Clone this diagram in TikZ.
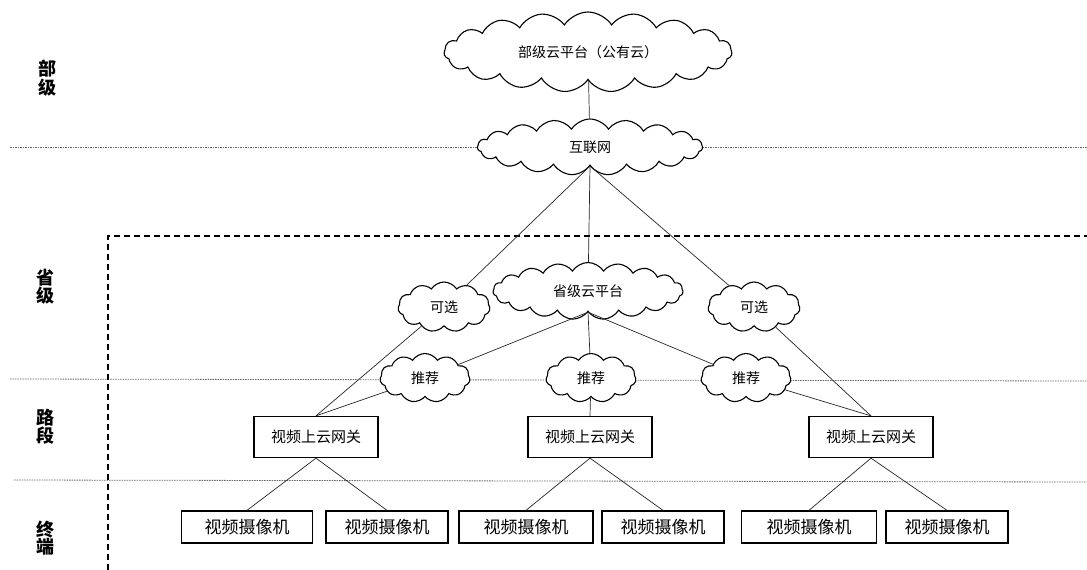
\documentclass[tikz,border=0pt]{standalone}
\usepackage{fontspec}
\setmainfont{Noto Sans CJK SC}
\usepackage{tikz}
\usetikzlibrary{positioning, arrows.meta, shapes.symbols}

\begin{document}
\begin{tikzpicture}[
    x=1pt, y=-1pt,
    % Define specific styles to match the drawing
    netcloud/.style={
        cloud,
        cloud puffs=11,
        cloud puff arc=115,
        cloud ignores aspect,
        draw=black,
        line width=1.1pt,
        fill=white,
        font=\fontsize{14}{16}\selectfont,
        inner sep=0pt
    },
    widecloud/.style={
        netcloud,
        cloud puffs=19
    },
    gateway/.style={
        rectangle,
        draw=black,
        line width=1.3pt,
        fill=white,
        minimum width=124pt,
        minimum height=41pt,
        font=\fontsize{15}{17}\selectfont
    },
    camera/.style={
        rectangle,
        draw=black,
        line width=1.3pt,
        fill=white,
        minimum width=127pt,
        minimum height=32pt,
        font=\fontsize{17}{19}\selectfont
    },
    link/.style={
        draw=black!85,
        line width=0.7pt
    },
    layerline/.style={
        draw=black!60,
        line width=0.8pt,
        dash pattern=on 1.5pt off 1pt
    },
    zone/.style={
        draw=black,
        line width=1.2pt,
        dash pattern=on 6pt off 4pt
    },
    level/.style={
        font=\bfseries\fontsize{18}{17}\selectfont,
        align=center
    }
]
    \useasboundingbox (0,0) rectangle (1087,570);

    % --- Layer separators ---
    \draw[layerline] (10,147) -- (1087,147);
    \draw[layerline] (10,379) -- (1087,381);
    \draw[layerline] (14,480) -- (1087,482);

    % --- Province zone ---
    \draw[zone] (108,570) -- (108,236) -- (1087,236);

    % --- Level labels ---
    \node[level] (lvMin)  at (47,78)  {部\\级};
    \node[level] (lvProv) at (45,287) {省\\级};
    \node[level] (lvRoad) at (45,427) {路\\段};
    \node[level] (lvTerm) at (45,538) {终\\端};

    % --- Clouds ---
    \node[widecloud, minimum width=288pt, minimum height=80pt] (ministry) at (588,52) {部级云平台（公有云）};
    \node[widecloud, minimum width=225pt, minimum height=56pt] (inet) at (590,147) {互联网};
    \node[widecloud, minimum width=190pt, minimum height=57pt] (prov) at (588,291) {省级云平台};
    \node[netcloud, minimum width=92pt, minimum height=50pt] (optL) at (444,307) {可选};
    \node[netcloud, minimum width=92pt, minimum height=50pt] (optR) at (754,307) {可选};
    \node[netcloud, minimum width=90pt, minimum height=49pt] (recL) at (425,378) {推荐};
    \node[netcloud, minimum width=90pt, minimum height=49pt] (recM) at (591,378) {推荐};
    \node[netcloud, minimum width=90pt, minimum height=49pt] (recR) at (746,378) {推荐};

    % --- Gateways ---
    \node[gateway] (gwL) at (316,437) {视频上云网关};
    \node[gateway] (gwM) at (590,437) {视频上云网关};
    \node[gateway] (gwR) at (871,437) {视频上云网关};

    % --- Cameras ---
    \node[camera, minimum width=131pt] (camA) at (247,527) {视频摄像机};
    \node[camera, minimum width=122pt] (camB) at (387,527) {视频摄像机};
    \node[camera, minimum width=134pt] (camC) at (526,527) {视频摄像机};
    \node[camera, minimum width=122pt] (camD) at (663,527) {视频摄像机};
    \node[camera, minimum width=135pt] (camE) at (809,527) {视频摄像机};
    \node[camera, minimum width=122pt] (camF) at (947,527) {视频摄像机};

    % --- Links ---
    \draw[link] (ministry) -- (inet);
    \draw[link] (inet.south) -- (prov);
    \draw[link] (inet.south) -- (optL);
    \draw[link] (optL) -- (gwL.north);
    \draw[link] (inet.south) -- (optR);
    \draw[link] (optR) -- (gwR.north);

    \draw[link] (prov.south) -- (recL);
    \draw[link] (prov.south) -- (recM);
    \draw[link] (prov.south) -- (recR);
    \draw[link] (recL) -- (gwL.north);
    \draw[link] (recM) -- (gwM.north);
    \draw[link] (recR) -- (gwR.north);

    \draw[link] (gwL.south) -- (camA.north);
    \draw[link] (gwL.south) -- (camB.north);
    \draw[link] (gwM.south) -- (camC.north);
    \draw[link] (gwM.south) -- (camD.north);
    \draw[link] (gwR.south) -- (camE.north);
    \draw[link] (gwR.south) -- (camF.north);

\end{tikzpicture}
\end{document}
